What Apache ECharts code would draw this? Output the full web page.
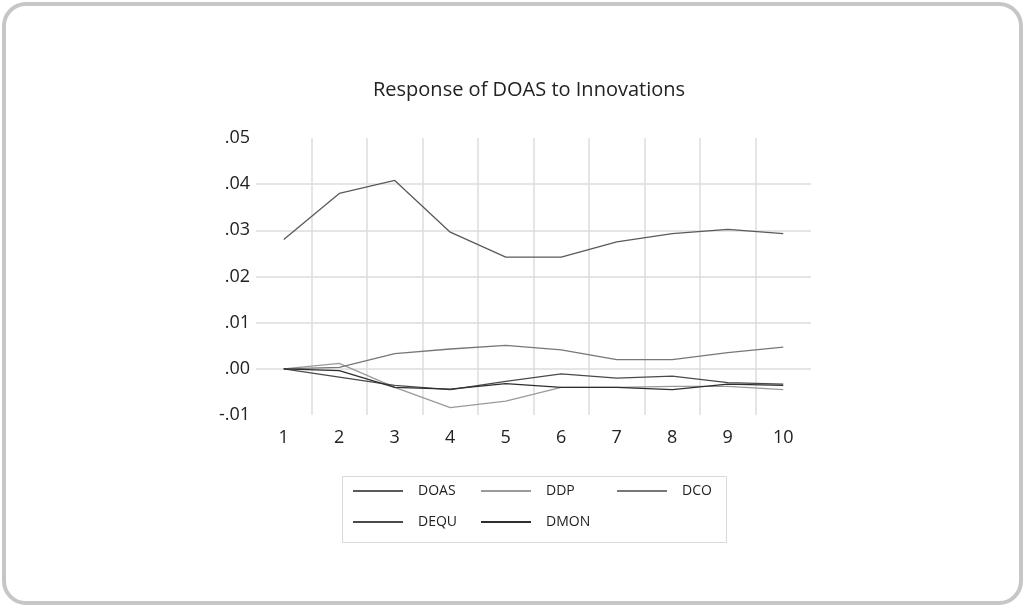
<!DOCTYPE html>
<html>
<head>
<meta charset="utf-8">
<script src="https://cdn.jsdelivr.net/npm/echarts@6/dist/echarts.min.js"></script>
<style>
html,body{margin:0;padding:0;background:#fff;}
#chart{width:1025px;height:607px;}
</style>
</head>
<body>
<div id="chart"></div>
<script>
const periods = ['1','2','3','4','5','6','7','8','9','10'];
const DOAS = [0.0280, 0.0380, 0.0408, 0.0296, 0.0242, 0.0242, 0.0275, 0.0293, 0.0302, 0.0293];
const DDP  = [0.0000, 0.0012, -0.0040, -0.0084, -0.0070, -0.0040, -0.0040, -0.0038, -0.0038, -0.0045];
const DCO  = [0.0000, 0.0003, 0.0033, 0.0043, 0.0051, 0.0041, 0.0020, 0.0020, 0.0035, 0.0047];
const DEQU = [0.0000, -0.0018, -0.0036, -0.0045, -0.0027, -0.0011, -0.0020, -0.0016, -0.0030, -0.0033];
const DMON = [0.0000, -0.0004, -0.0040, -0.0044, -0.0032, -0.0040, -0.0040, -0.0045, -0.0033, -0.0036];

const seriesDefs = [
  {name:'DOAS', data:DOAS, color:'#5a5a5a'},
  {name:'DDP',  data:DDP,  color:'#9a9a9a'},
  {name:'DCO',  data:DCO,  color:'#777777'},
  {name:'DEQU', data:DEQU, color:'#4a4a4a'},
  {name:'DMON', data:DMON, color:'#2e2e2e'}
];
const legendPos = [
  {left:353, top:484}, {left:481, top:484}, {left:617, top:484},
  {left:353, top:515}, {left:481, top:515}
];
const font = '"Open Sans", Lato, sans-serif';

const chart = echarts.init(document.getElementById('chart'));
chart.setOption({
  animation:false,
  backgroundColor:'#fff',
  title:{
    text:'Response of DOAS to Innovations',
    left:368, top:75,
    textStyle:{fontFamily:font, fontSize:20, fontWeight:'normal', color:'#222'}
  },
  legend: seriesDefs.map((s,i)=>({
    data:[s.name], left:legendPos[i].left, top:legendPos[i].top,
    orient:'horizontal', padding:0,
    itemWidth:50, itemHeight:2, icon:'rect', itemGap:0,
    textStyle:{fontFamily:font, fontSize:14, color:'#222', padding:[0,0,0,10]}
  })),
  graphic:[
    {type:'rect', shape:{x:4, y:4, width:1017, height:599, r:22},
     style:{fill:'none', stroke:'#c6c6c6', lineWidth:4}, silent:true},
    {type:'rect', shape:{x:342.5, y:476.5, width:384, height:66},
     style:{fill:'none', stroke:'#d9d9d9', lineWidth:1}, silent:true, z:-1}
  ],
  grid:{left:256, right:214, top:138, bottom:192, containLabel:false},
  xAxis:{
    type:'category', data:periods, boundaryGap:true,
    axisLine:{show:false}, axisTick:{show:false},
    axisLabel:{fontFamily:font, fontSize:18, color:'#222', margin:14},
    splitLine:{show:true, showMinLine:false, showMaxLine:false, lineStyle:{color:'#dcdcdc', width:1.5}}
  },
  yAxis:{
    type:'value', min:-0.01, max:0.05, interval:0.01,
    axisLine:{show:false}, axisTick:{show:false},
    axisLabel:{fontFamily:font, fontSize:18, color:'#222', margin:6,
      formatter:function(v){
        const r = Math.round(v*100)/100;
        let s = Math.abs(r).toFixed(2).replace(/^0/,'');
        return (r<0?'-':'') + s;
      }},
    splitLine:{show:true, showMinLine:false, showMaxLine:false, lineStyle:{color:'#dcdcdc', width:1.5}}
  },
  series: seriesDefs.map(s=>({
    name:s.name, type:'line', data:s.data, symbol:'none', smooth:false,
    lineStyle:{color:s.color, width:1.3}, itemStyle:{color:s.color}
  }))
});
</script>
</body>
</html>
